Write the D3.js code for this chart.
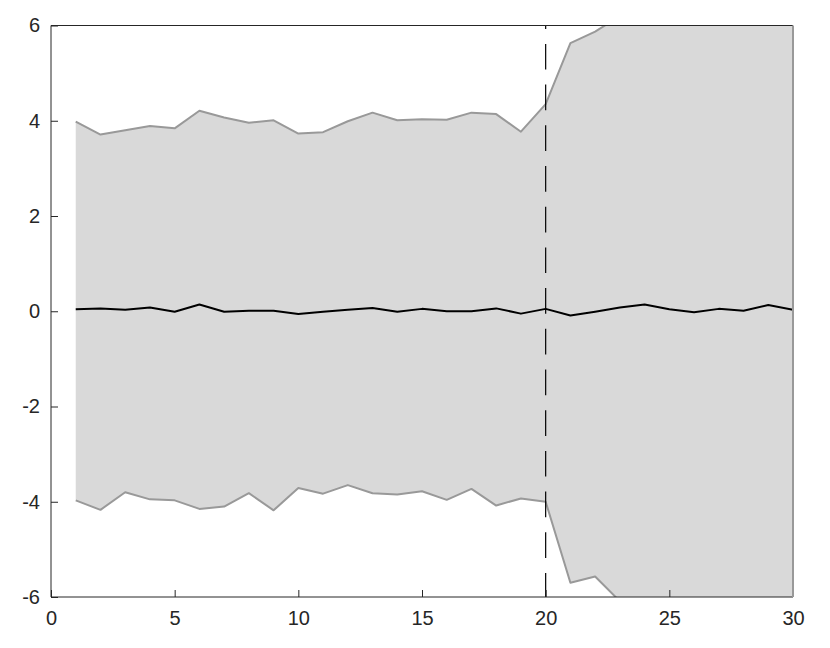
<!DOCTYPE html>
<html>
<head>
<meta charset="utf-8">
<script src="https://cdn.jsdelivr.net/npm/d3@7"></script>
<style>
  html, body { margin: 0; padding: 0; background: #fff; }
  svg { display: block; }
</style>
</head>
<body>
<svg id="chart" width="830" height="648"></svg>
<script>
// ---- data ----
const steps = d3.range(1, 31);
const meanValues = [0.04, 0.06, 0.03, 0.08, -0.01, 0.14, -0.01, 0.01, 0.01, -0.06,
                    -0.01, 0.03, 0.07, -0.01, 0.05, 0.00, 0.00, 0.06, -0.05, 0.05,
                    -0.09, -0.01, 0.08, 0.14, 0.04, -0.02, 0.05, 0.01, 0.13, 0.03];
const upperValues = [3.98, 3.71, 3.80, 3.89, 3.84, 4.21, 4.07, 3.96, 4.01, 3.73,
                     3.76, 3.99, 4.17, 4.01, 4.03, 4.02, 4.17, 4.14, 3.77, 4.35,
                     5.63, 5.87, 6.20, 6.50, 6.80, 7.00, 7.30, 7.50, 7.80, 8.00];
const lowerValues = [-3.97, -4.17, -3.80, -3.95, -3.97, -4.15, -4.10, -3.82, -4.18, -3.71,
                     -3.83, -3.65, -3.82, -3.85, -3.78, -3.96, -3.73, -4.08, -3.93, -4.00,
                     -5.70, -5.57, -6.09, -6.40, -6.70, -7.00, -7.20, -7.50, -7.70, -8.00];
const xTicks = [0, 5, 10, 15, 20, 25, 30];
const yTicks = [-6, -4, -2, 0, 2, 4, 6];
const splitStep = 20;

(function () {
// ---- layout ----
const mLeft = 51, mRight = 793, mTop = 25.5, mBottom = 597;
const svg = d3.select("#chart");
const x = d3.scaleLinear().domain([0, 30]).range([mLeft, mRight]);
const y = d3.scaleLinear().domain([-6, 6]).range([mBottom, mTop]);

const axisColor = "#262626";
const edgeColor = "#999999";
const fillColor = "#d9d9d9";

svg.append("defs").append("clipPath").attr("id", "plotclip")
  .append("rect").attr("x", mLeft).attr("y", mTop)
  .attr("width", mRight - mLeft).attr("height", mBottom - mTop);

const g = svg.append("g").attr("clip-path", "url(#plotclip)");

const band = steps.map((s, i) => ({ s, lo: lowerValues[i], hi: upperValues[i], m: meanValues[i] }));

g.append("path").datum(band)
  .attr("d", d3.area().x(d => x(d.s)).y0(d => y(d.lo)).y1(d => y(d.hi)))
  .attr("fill", fillColor).attr("stroke", "none");

const lineHi = d3.line().x(d => x(d.s)).y(d => y(d.hi));
const lineLo = d3.line().x(d => x(d.s)).y(d => y(d.lo));
const lineM = d3.line().x(d => x(d.s)).y(d => y(d.m));

g.append("path").datum(band).attr("d", lineHi)
  .attr("fill", "none").attr("stroke", edgeColor).attr("stroke-width", 2).attr("stroke-linejoin", "round");
g.append("path").datum(band).attr("d", lineLo)
  .attr("fill", "none").attr("stroke", edgeColor).attr("stroke-width", 2).attr("stroke-linejoin", "round");

// dashed split line
g.append("line")
  .attr("x1", x(splitStep)).attr("x2", x(splitStep))
  .attr("y1", mTop).attr("y2", mBottom)
  .attr("stroke", "#000").attr("stroke-width", 1.2)
  .attr("stroke-dasharray", "25.7,15").attr("stroke-dashoffset", 22.3);

g.append("path").datum(band).attr("d", lineM)
  .attr("fill", "none").attr("stroke", "#000").attr("stroke-width", 2).attr("stroke-linejoin", "round");

// ---- axes ----
const xAxis = d3.axisBottom(x).tickValues(xTicks).tickSize(-7).tickPadding(14).tickFormat(d3.format("d"));
const yAxis = d3.axisLeft(y).tickValues(yTicks).tickSize(-7).tickPadding(11).tickFormat(d => d < 0 ? "-" + Math.abs(d) : String(d));

const gx = svg.append("g").attr("transform", `translate(0,${mBottom})`).call(xAxis);
const gy = svg.append("g").attr("transform", `translate(${mLeft},0)`).call(yAxis);

[gx, gy].forEach(a => {
  a.select(".domain").remove();
  a.selectAll(".tick line").attr("stroke", axisColor).attr("stroke-width", 1);
  a.selectAll(".tick text").attr("fill", axisColor)
    .style("font-family", "'Liberation Sans', Arial, Helvetica, sans-serif")
    .style("font-size", "20px");
});

// box lines
svg.append("line").attr("x1", mLeft).attr("x2", mRight).attr("y1", mBottom).attr("y2", mBottom)
  .attr("stroke", axisColor).attr("stroke-width", 1);
svg.append("line").attr("x1", mLeft).attr("x2", mRight).attr("y1", mTop).attr("y2", mTop)
  .attr("stroke", axisColor).attr("stroke-width", 1);
svg.append("line").attr("x1", mLeft).attr("x2", mLeft).attr("y1", mTop).attr("y2", mBottom)
  .attr("stroke", axisColor).attr("stroke-width", 1);
svg.append("line").attr("x1", mRight).attr("x2", mRight).attr("y1", mTop).attr("y2", mBottom)
  .attr("stroke", edgeColor).attr("stroke-width", 2);
})();
</script>
</body>
</html>
